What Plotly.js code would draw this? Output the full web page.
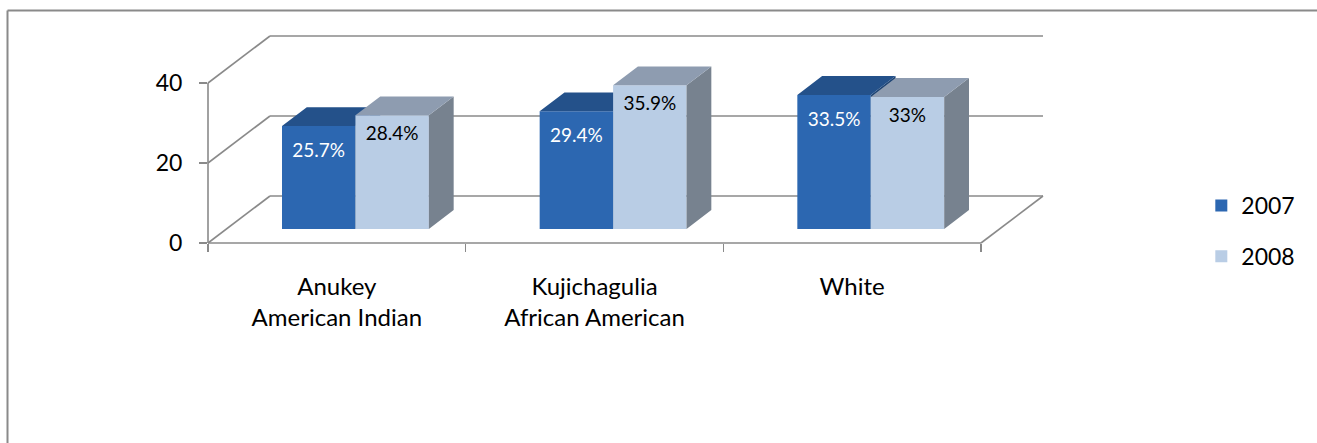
<!DOCTYPE html>
<html>
<head>
<meta charset="utf-8">
<script src="https://cdn.plot.ly/plotly-3.0.1.min.js"></script>
<style>
html, body { margin: 0; padding: 0; background: #fff; }
#chart { width: 1317px; height: 443px; }
</style>
</head>
<body>
<div id="chart"></div>
<script>
// ---- data ----
const categories = ['Anukey<br>American Indian', 'Kujichagulia<br>African American', 'White'];
const seriesNames = ['2007', '2008'];
const values2007 = [25.7, 29.4, 33.5];
const values2008 = [28.4, 35.9, 33];
const yTickValues = [0, 20, 40];

// ---- 3D-look geometry (styling) ----
const CAT_PX = 257.67, UNIT_PX = 4;
const DX = 62 / CAT_PX;          // full depth offset, category units
const DY = 47 / UNIT_PX;         // full depth offset, value units
const D0 = 0.3, D1 = 0.7;        // bar front / back depth
const BW = 0.285;                // width of one bar, category units
const XMAX = 3 + DX, YMAX = 40 + DY;
const BASE = D0 * DY;
const ddx = (D1 - D0) * DX, ddy = (D1 - D0) * DY;

const FONT = 'Lato, "Open Sans", sans-serif';
const GRID = '#8a8a8a';

const colors = {
  '2007': { front: '#2C67B1', top: '#24518A', side: '#1E4474', text: '#ffffff', lbl: 6.6 },
  '2008': { front: '#B9CDE5', top: '#8E9CB0', side: '#77828F', text: '#000000', lbl: 5.0 }
};

function seriesTraces(name, vals, sIdx, xa, ya) {
  const c = colors[name];
  const xc = vals.map((v, i) => i + 0.5 + D0 * DX);
  const off = sIdx === 0 ? -BW : 0;
  const topX = [], topY = [], sideX = [], sideY = [], lx = [], ly = [], lt = [];
  vals.forEach((v, i) => {
    const x0 = xc[i] + off, x1 = x0 + BW, t = BASE + v;
    topX.push(x0, x1, x1 + ddx, x0 + ddx, x0, null);
    topY.push(t, t, t + ddy, t + ddy, t, null);
    sideX.push(x1, x1 + ddx, x1 + ddx, x1, x1, null);
    sideY.push(BASE, BASE + ddy, t + ddy, t, BASE, null);
    lx.push(x0 + BW / 2); ly.push(t - c.lbl); lt.push(v + '%');
  });
  return [
    { type: 'bar', name: name, x: xc, y: vals, base: BASE, offset: off, width: BW,
      marker: { color: c.front, line: { width: 0 } }, xaxis: xa, yaxis: ya,
      legendgroup: name, hoverinfo: 'skip' },
    { type: 'scatter', mode: 'lines', x: sideX, y: sideY, fill: 'toself', fillcolor: c.side,
      line: { width: 0, color: c.side }, showlegend: false, hoverinfo: 'skip', xaxis: xa, yaxis: ya },
    { type: 'scatter', mode: 'lines', x: topX, y: topY, fill: 'toself', fillcolor: c.top,
      line: { width: 0, color: c.top }, showlegend: false, hoverinfo: 'skip', xaxis: xa, yaxis: ya },
    { type: 'scatter', mode: 'text', x: lx, y: ly, text: lt, textposition: 'middle center',
      textfont: { family: FONT, size: 19, color: c.text }, showlegend: false, hoverinfo: 'skip',
      cliponaxis: false, xaxis: xa, yaxis: ya }
  ];
}

const traces = [
  ...seriesTraces(seriesNames[0], values2007, 0, 'x', 'y'),
  ...seriesTraces(seriesNames[1], values2008, 1, 'x2', 'y2')
];

// wall lines as paper shapes
const px = x => x / XMAX, py = y => y / YMAX;
function seg(x0, y0, x1, y1, color, w) {
  return { type: 'line', xref: 'paper', yref: 'paper', x0: px(x0), y0: py(y0), x1: px(x1), y1: py(y1),
           line: { color: color || GRID, width: w || 1.6 }, layer: 'below' };
}
const shapes = [];
shapes.push(seg(0, 0, 0, 40));
yTickValues.forEach(v => {
  shapes.push(seg(0, v, DX, v + DY));
  shapes.push(seg(DX, v + DY, 3 + DX, v + DY));
});
shapes.push(seg(0, 0, 3, 0));
shapes.push(seg(3, 0, 3 + DX, DY));
// chart border (pixels -> paper)
const L = 208, T = 36, PW = 835, PH = 207;
const bx = (7.5 - L) / PW, by = (T + PH - 10.5) / PH;
shapes.push({ type: 'line', xref: 'paper', yref: 'paper', x0: bx, y0: by, x1: bx, y1: (T + PH - 450) / PH,
  line: { color: '#8a8a8a', width: 2 } });
shapes.push({ type: 'line', xref: 'paper', yref: 'paper', x0: bx, y0: by, x1: (1330 - L) / PW, y1: by,
  line: { color: '#8a8a8a', width: 2 } });

const layout = {
  width: 1317, height: 443,
  margin: { l: L, r: 1317 - L - PW, t: T, b: 443 - T - PH, pad: 0 },
  paper_bgcolor: '#fff', plot_bgcolor: 'rgba(0,0,0,0)',
  barmode: 'overlay',
  showlegend: true,
  font: { family: FONT, color: '#000' },
  xaxis: { range: [0, XMAX], tickvals: [0, 1, 2, 3], ticks: 'outside', ticklen: 8, tickwidth: 1.6,
           tickcolor: GRID, showticklabels: false, showgrid: false, zeroline: false, showline: false,
           fixedrange: true },
  yaxis: { range: [0, YMAX], tickvals: yTickValues, ticks: 'outside', ticklen: 8, tickwidth: 1.6,
           tickcolor: GRID, tickfont: { family: FONT, size: 23, color: '#000' }, ticklabelstandoff: 12,
           showgrid: false, zeroline: false, showline: false, fixedrange: true },
  xaxis2: { overlaying: 'x', anchor: 'y2', side: 'bottom', range: [0, XMAX], tickvals: [0.5, 1.5, 2.5],
            ticktext: categories, ticks: '', tickfont: { family: FONT, size: 24, color: '#000' },
            ticklabelstandoff: 27, showgrid: false, zeroline: false, showline: false, fixedrange: true },
  yaxis2: { overlaying: 'y', anchor: 'x2', range: [0, YMAX], visible: false, fixedrange: true },
  legend: { x: 1.1896, xanchor: 'left', y: 0.285, yanchor: 'top', traceorder: 'grouped', tracegroupgap: 18,
            font: { family: FONT, size: 23, color: '#000' }, bgcolor: 'rgba(0,0,0,0)' },
  shapes: shapes
};

Plotly.newPlot('chart', traces, layout, { displayModeBar: false, staticPlot: true });
</script>
</body>
</html>
